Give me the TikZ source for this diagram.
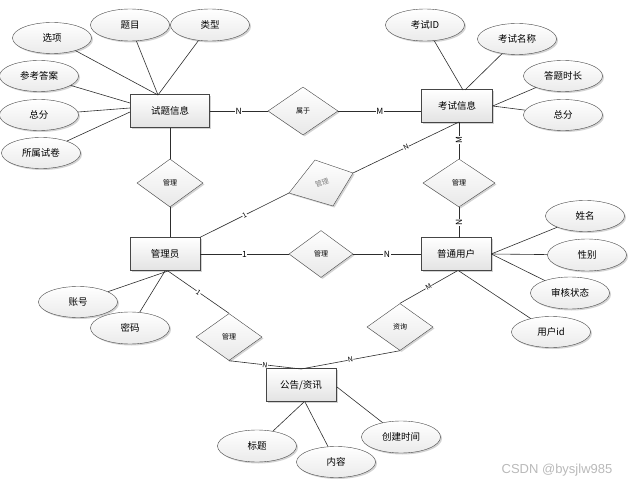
\documentclass[tikz,border=0pt]{standalone}
\usepackage{fontspec}
\setmainfont{Noto Sans CJK SC}
\newfontfamily\wmfont{Liberation Sans}
\usetikzlibrary{shapes.geometric,shadows,calc}
\tikzset{
  shd/.style={drop shadow={shadow xshift=1.5pt,shadow yshift=-1.5pt,opacity=0.35}},
  ent/.style={rectangle, draw=gray!55!black, top color=white, bottom color=gray!22, shd,
    minimum width=70pt, minimum height=33pt, inner sep=0pt, font=\fontsize{9.5}{11}\selectfont},
  att/.style={ellipse, draw=gray!55!black, top color=white, bottom color=gray!16, shd,
    minimum width=79pt, minimum height=31pt, inner sep=0pt, font=\fontsize{9.5}{11}\selectfont},
  rel/.style={diamond, draw=gray!55!black, top color=white, bottom color=gray!18, shd,
    minimum width=66pt, minimum height=48pt, inner sep=0pt, font=\fontsize{7}{8}\selectfont},
  ln/.style={draw=gray!35!black, line width=0.6pt},
  lab/.style={fill=white, inner sep=0.6pt, font=\fontsize{8.5}{9}\selectfont},
  slab/.style={fill=white, inner sep=0.4pt, font=\fontsize{7}{8}\selectfont, sloped}
}
\begin{document}
\begin{tikzpicture}[x=1pt,y=-1pt]
\useasboundingbox (0,0) rectangle (633,487);
% entities
\node[ent, minimum width=79pt] (st) at (170,111) {试题信息};
\node[ent, minimum width=71pt] (ks) at (457,106) {考试信息};
\node[ent] (gly) at (165,254) {管理员};
\node[ent] (yh) at (456,254) {普通用户};
\node[ent] (gg) at (301,385) {公告/资讯};
% attributes of 试题信息
\node[att] (xx) at (52,38) {选项};
\node[att, minimum height=32pt] (tm) at (130,25) {题目};
\node[att, minimum height=32pt] (lx) at (210,25) {类型};
\node[att] (ck) at (39,76) {参考答案};
\node[att] (zf1) at (39,115) {总分};
\node[att] (ss) at (41,153) {所属试卷};
% attributes of 考试信息
\node[att, minimum height=32pt] (kid) at (425,25) {考试ID};
\node[att] (kmc) at (517,39) {考试名称};
\node[att] (dt) at (563,76) {答题时长};
\node[att] (zf2) at (563,115) {总分};
% attributes of 普通用户
\node[att] (xm) at (585,216) {姓名};
\node[att, minimum height=32pt] (xb) at (587,255) {性别};
\node[att, minimum height=32pt] (sh) at (570,293) {审核状态};
\node[att] (uid) at (551,332) {用户id};
% attributes of 管理员
\node[att] (zh) at (78,302) {账号};
\node[att, minimum height=32pt] (mm) at (130,328) {密码};
% attributes of 公告/资讯
\node[att, minimum height=32pt] (bt) at (257,446) {标题};
\node[att] (nr) at (336,462) {内容};
\node[att, minimum height=32pt] (cj) at (401,437) {创建时间};
% relationships
\node[rel, minimum width=70pt] (sy) at (303,111) {属于};
\node[rel] (r1) at (170,183) {管理};
\node[rel, minimum width=72pt] (r2) at (459,183) {管理};
\node[rel, minimum width=64pt, minimum height=47pt] (r3) at (321,254) {管理};
\node[rel, minimum height=47pt] (r4) at (229,337) {管理};
\node[rel, minimum height=47pt] (r5) at (400,327) {资询};
% tilted relationship
\coordinate (tT) at (315,160);
\coordinate (tR) at (353,173);
\coordinate (tB) at (333,206);
\coordinate (tL) at (289,193);
\path[draw=gray!55!black, top color=white, bottom color=gray!18, shd] (tT) -- (tR) -- (tB) -- (tL) -- cycle;
\node[rotate=20, text=gray, font=\fontsize{7}{8}\selectfont] (tx) at (322,183) {管理};
% anchor points
\coordinate (stT) at (158,95);
\coordinate (stL1) at (130,103);
\coordinate (stL2) at (130,108);
\coordinate (stL3) at (130,112);
\coordinate (ksT1) at (463,90);
\coordinate (ksT2) at (465,90);
\coordinate (ksB) at (459,122);
\coordinate (yhB) at (459,271);
\coordinate (yhT) at (459,238);
\coordinate (yhB2) at (457,271);
\coordinate (glyB1) at (168,271);
\coordinate (glyB2) at (165,271);
\coordinate (ggT) at (301,369);
\coordinate (ggB1) at (304,402);
\coordinate (ggB2) at (305,402);
\coordinate (ggR) at (337,387);
% attribute lines
\draw[ln] (xx) -- (stT);
\draw[ln] (tm) -- (stT);
\draw[ln] (lx) -- (stT);
\draw[ln] (ck) -- (stL1);
\draw[ln] (zf1) -- (stL2);
\draw[ln] (ss) -- (stL3);
\draw[ln] (kid) -- (ksT1);
\draw[ln] (kmc) -- (ksT2);
\draw[ln] (dt) -- (ks.east);
\draw[ln] (zf2) -- (ks.east);
\draw[ln] (xm) -- (yh.east);
\draw[ln] (xb) -- (yh.east);
\draw[ln] (sh) -- (yh.east);
\draw[ln] (uid) -- (yhB);
\draw[ln] (zh) -- (glyB1);
\draw[ln] (mm) -- (glyB2);
\draw[ln] (bt) -- (ggB1);
\draw[ln] (nr) -- (ggB2);
\draw[ln] (cj) -- (ggR);
% relationship lines
\draw[ln] (st.east) -- (sy.west) node[midway, lab] {N};
\draw[ln] (sy.east) -- (sy.east -| ks.west) node[midway, lab] {M};
\draw[ln] (st.south -| r1.north) -- (r1.north);
\draw[ln] (r1.south) -- (r1.south |- gly.north);
\draw[ln] (gly.north east) -- (tL) node[midway, slab] {1};
\draw[ln] (tR) -- (ksB) node[midway, slab] {N};
\draw[ln] (ksB) -- (r2.north) node[midway, lab, rotate=90] {M};
\draw[ln] (r2.south) -- (yhT) node[midway, lab, rotate=90] {N};
\draw[ln] (gly.east) -- (r3.west) node[midway, lab] {1};
\draw[ln] (r3.east) -- (yh.west) node[midway, lab] {N};
\draw[ln] (glyB1) -- (r4.north) node[midway, slab] {1};
\draw[ln] (r4.south) -- (ggT) node[midway, slab] {N};
\draw[ln] (r5.south) -- (ggT) node[midway, slab] {N};
\draw[ln] (r5.north) -- (yhB2) node[midway, slab] {M};
% watermark
\node[text=gray!55, font=\wmfont\fontsize{13}{14}\selectfont] (wm) at (557,470) {CSDN @bysjlw985};
\end{tikzpicture}
\end{document}
